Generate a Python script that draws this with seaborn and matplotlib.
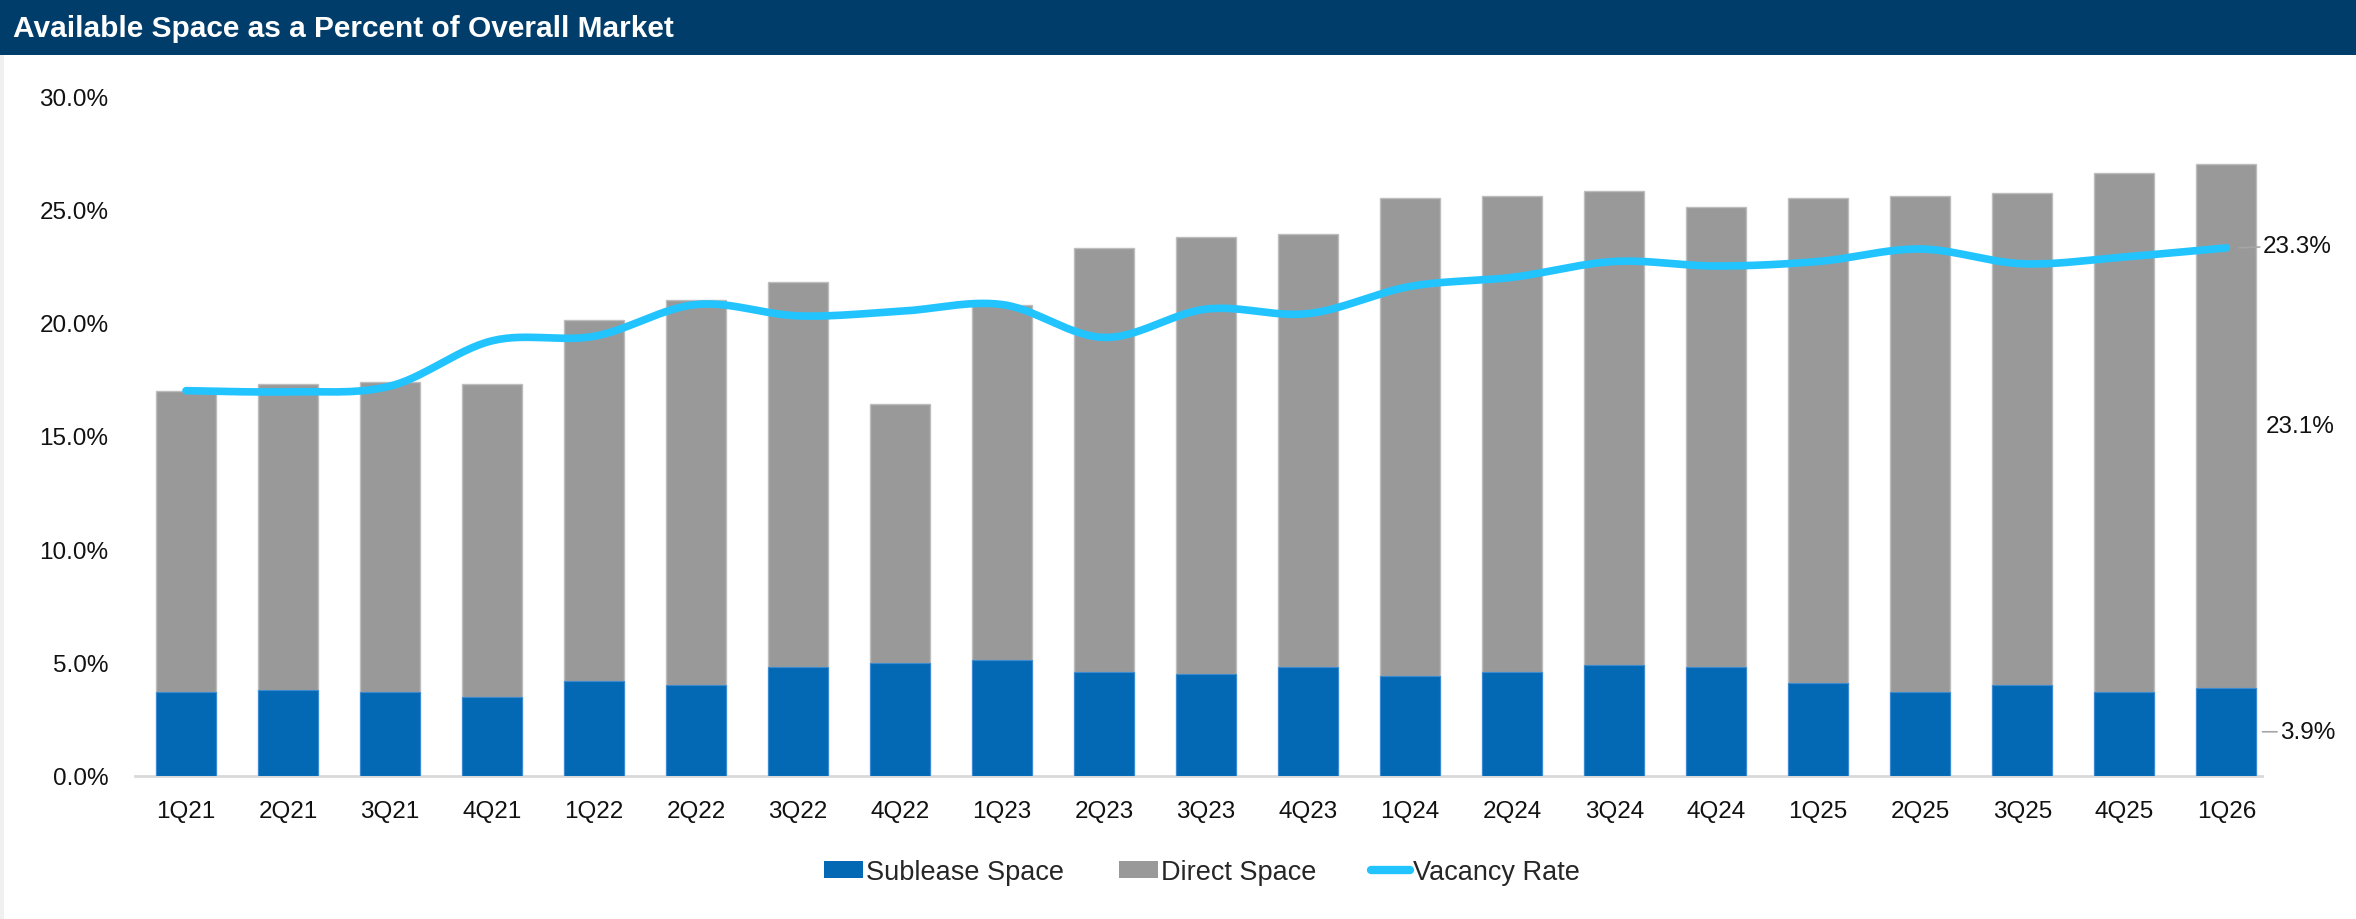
import numpy as np
import pandas as pd
import matplotlib
matplotlib.use("Agg")
import matplotlib.pyplot as plt
from matplotlib import font_manager
from matplotlib.patches import Rectangle
from matplotlib.lines import Line2D
import seaborn as sns

# ---------------- data ----------------
quarters = ['1Q21', '2Q21', '3Q21', '4Q21', '1Q22', '2Q22', '3Q22', '4Q22', '1Q23', '2Q23', '3Q23',
            '4Q23', '1Q24', '2Q24', '3Q24', '4Q24', '1Q25', '2Q25', '3Q25', '4Q25', '1Q26']
sublease = [3.7, 3.8, 3.7, 3.5, 4.2, 4.0, 4.8, 5.0, 5.1, 4.6, 4.5,
            4.8, 4.4, 4.6, 4.9, 4.8, 4.1, 3.7, 4.0, 3.7, 3.9]
direct = [13.3, 13.5, 13.7, 13.8, 15.9, 17.0, 17.0, 11.4, 15.7, 18.7, 19.3,
          19.1, 21.1, 21.0, 20.9, 20.3, 21.4, 21.9, 21.7, 22.9, 23.1]
vacancy = [17.0, 16.95, 17.2, 19.2, 19.4, 20.8, 20.3, 20.5, 20.8, 19.35, 20.6,
           20.4, 21.6, 22.0, 22.7, 22.5, 22.7, 23.25, 22.6, 22.9, 23.3]
yticks = [0, 5, 10, 15, 20, 25, 30]
legend_labels = ['Sublease Space', 'Direct Space', 'Vacancy Rate']
title = 'Available Space as a Percent of Overall Market'

# ---------------- style ----------------
sns.set_style("white")
avail = {f.name for f in font_manager.fontManager.ttflist}
base_font = 'Liberation Sans' if 'Liberation Sans' in avail else 'DejaVu Sans'
narrow_font = 'Liberation Sans Narrow' if 'Liberation Sans Narrow' in avail else base_font
plt.rcParams['font.family'] = [base_font, 'DejaVu Sans']

C_SUB = '#0369B4'
C_DIR = '#999999'
C_VAC = '#22C4FF'
NAVY = '#003D6B'

W, H = 2356, 920
fig = plt.figure(figsize=(W / 100, H / 100), dpi=100)
fig.patch.set_facecolor('white')

# title bar
fig.patches.append(Rectangle((0, 1 - 56 / H), 1, 56 / H, transform=fig.transFigure,
                             facecolor=NAVY, edgecolor='none', zorder=0))
fig.patches.append(Rectangle((0, 0), 4 / W, 1 - 56 / H, transform=fig.transFigure,
                             facecolor='#F0F0F0', edgecolor='none', zorder=0))
fig.text(13 / W, 1 - 29 / H, title, color='white', fontsize=21.5, fontweight='bold',
         family=[narrow_font, 'DejaVu Sans'], va='center', ha='left')

left, right = 135 / W, 2262 / W
bottom, top = 1 - 777 / H, 1 - 97 / H
ax = fig.add_axes([left, bottom, right - left, top - bottom])

df = pd.DataFrame({'quarter': quarters, 'sublease': sublease, 'direct': direct, 'vacancy': vacancy})
df['total'] = df['sublease'] + df['direct']

sns.barplot(data=df, x='quarter', y='total', color=C_DIR, width=0.59, saturation=1,
            edgecolor='#BDBDBD', linewidth=1, ax=ax, zorder=2)
sns.barplot(data=df, x='quarter', y='sublease', color=C_SUB, width=0.59, saturation=1,
            edgecolor='#3C8AD0', linewidth=0.8, ax=ax, zorder=3)

# smoothed vacancy line (Catmull-Rom through the data points)
xs = np.arange(len(vacancy), dtype=float)
ys = np.asarray(vacancy, dtype=float)
px = np.concatenate([[xs[0]], xs, [xs[-1]]])
py = np.concatenate([[ys[0]], ys, [ys[-1]]])
sx, sy = [], []
t = np.linspace(0, 1, 30, endpoint=False)
for i in range(1, len(px) - 2):
    p0, p1, p2, p3 = py[i - 1], py[i], py[i + 1], py[i + 2]
    q0, q1, q2, q3 = px[i - 1], px[i], px[i + 1], px[i + 2]
    sy.extend(0.5 * (2 * p1 + (-p0 + p2) * t + (2 * p0 - 5 * p1 + 4 * p2 - p3) * t ** 2
                     + (-p0 + 3 * p1 - 3 * p2 + p3) * t ** 3))
    sx.extend(0.5 * (2 * q1 + (-q0 + q2) * t + (2 * q0 - 5 * q1 + 4 * q2 - q3) * t ** 2
                     + (-q0 + 3 * q1 - 3 * q2 + q3) * t ** 3))
sx.append(xs[-1]); sy.append(ys[-1])
ax.plot(sx, sy, color=C_VAC, lw=5.5, solid_capstyle='round', zorder=4)

ax.set_ylim(0, 30)
ax.set_xlim(-0.5, 20.35)
ax.set_yticks(yticks)
ax.set_yticklabels([f'{v:.1f}%' for v in yticks])
ax.set_xlabel('')
ax.set_ylabel('')
ax.tick_params(axis='both', length=0, labelsize=17.5, colors='#111111')
ax.tick_params(axis='y', pad=19)
ax.tick_params(axis='x', pad=17)
for s in ['top', 'right', 'left']:
    ax.spines[s].set_visible(False)
ax.spines['bottom'].set_color('#D9D9D9')
ax.spines['bottom'].set_linewidth(2)
ax.grid(False)

# right-side data labels for last quarter
n = len(quarters) - 1
last_sub = sublease[n]
last_dir = direct[n]
last_vac = vacancy[n]
ax.annotate(f'{last_vac:.1f}%', xy=(n + 0.1, last_vac), xytext=(n + 0.36, last_vac + 0.1),
            textcoords='data', va='center', ha='left', fontsize=17.5, color='#111111',
            annotation_clip=False,
            arrowprops=dict(arrowstyle='-', color='#A6A6A6', lw=1.2,
                            connectionstyle='arc3,rad=0', shrinkA=0, shrinkB=2))
ax.text(n + 0.39, last_sub + last_dir / 2, f'{last_dir:.1f}%', va='center', ha='left',
        fontsize=17.5, color='#111111', clip_on=False)
ax.annotate(f'{last_sub:.1f}%', xy=(n + 0.3, last_sub / 2), xytext=(n + 0.53, last_sub / 2),
            textcoords='data', va='center', ha='left', fontsize=17.5, color='#111111',
            annotation_clip=False,
            arrowprops=dict(arrowstyle='-', color='#A6A6A6', lw=1.2, shrinkA=0, shrinkB=4))

# legend
handles = [Rectangle((0, 0), 1, 1, facecolor=C_SUB, edgecolor='none'),
           Rectangle((0, 0), 1, 1, facecolor=C_DIR, edgecolor='none'),
           Line2D([0], [0], color=C_VAC, lw=6, solid_capstyle='round')]
fig.legend(handles, legend_labels, loc='center', bbox_to_anchor=(1202 / W, 1 - 873 / H),
           ncol=3, frameon=False, handlelength=1.45, handleheight=0.6, handletextpad=0.12,
           columnspacing=2.0, prop={'family': [narrow_font, 'DejaVu Sans'], 'size': 19.5})

fig.savefig('out.png', dpi=100, facecolor=fig.get_facecolor())
